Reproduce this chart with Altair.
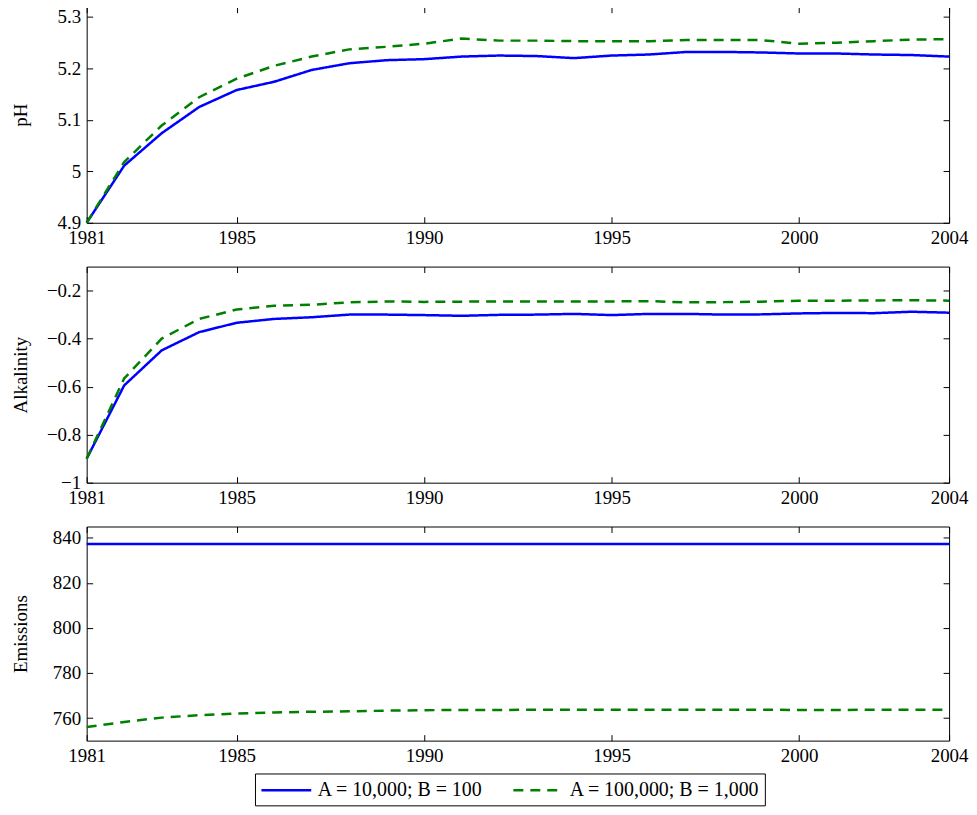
import altair as alt
import pandas as pd

# ---- data ----
years = [1981, 1982, 1983, 1984, 1985, 1986, 1987, 1988, 1989, 1990, 1991, 1992,
         1993, 1994, 1995, 1996, 1997, 1998, 1999, 2000, 2001, 2002, 2003, 2004]

ph_a = [4.900, 5.011, 5.074, 5.125, 5.158, 5.174, 5.197, 5.210, 5.216, 5.218, 5.223, 5.225,
        5.224, 5.220, 5.225, 5.227, 5.232, 5.232, 5.231, 5.229, 5.229, 5.227, 5.226, 5.223]
ph_b = [4.900, 5.018, 5.089, 5.144, 5.180, 5.205, 5.223, 5.237, 5.242, 5.248, 5.258, 5.254,
        5.254, 5.253, 5.253, 5.253, 5.255, 5.255, 5.255, 5.248, 5.250, 5.253, 5.256, 5.257]

alk_a = [-0.900, -0.595, -0.449, -0.373, -0.334, -0.318, -0.311, -0.300, -0.300, -0.302, -0.305, -0.301,
         -0.300, -0.297, -0.302, -0.297, -0.297, -0.300, -0.299, -0.295, -0.293, -0.294, -0.288, -0.292]
alk_b = [-0.900, -0.566, -0.400, -0.318, -0.279, -0.263, -0.259, -0.249, -0.245, -0.247, -0.246, -0.245,
         -0.245, -0.245, -0.245, -0.244, -0.249, -0.248, -0.246, -0.242, -0.242, -0.241, -0.240, -0.242]

em_a = [837.2, 837.2, 837.2, 837.2, 837.2, 837.2, 837.2, 837.2, 837.2, 837.2, 837.2, 837.2,
        837.2, 837.2, 837.2, 837.2, 837.2, 837.2, 837.2, 837.2, 837.2, 837.2, 837.2, 837.2]
em_b = [756.0, 758.3, 760.2, 761.3, 762.0, 762.5, 762.8, 763.0, 763.3, 763.5, 763.6, 763.6,
        763.7, 763.7, 763.7, 763.7, 763.7, 763.7, 763.7, 763.6, 763.6, 763.7, 763.7, 763.7]

series_names = ["A = 10,000; B = 100", "A = 100,000; B = 1,000"]
x_ticks = [1981, 1985, 1990, 1995, 2000, 2004]
ph_ticks = [4.9, 5.0, 5.1, 5.2, 5.3]
alk_ticks = [-1.0, -0.8, -0.6, -0.4, -0.2]
em_ticks = [760, 780, 800, 820, 840]

COLORS = ["#0000ff", "#008000"]
DASHES = [[1, 0], [10, 7]]
FONT = "Liberation Serif"
W = 866


def panel(a, b, title, domain, ticks, fmt, height, legend):
    df = pd.DataFrame({
        "year": years + years,
        "value": a + b,
        "series": [series_names[0]] * len(years) + [series_names[1]] * len(years),
    })
    xs = alt.Scale(domain=[1981, 2004], nice=False, zero=False)
    ys = alt.Scale(domain=domain, nice=False, zero=False)
    base = alt.Chart(df)
    if legend:
        leg = alt.Legend(orient="none", legendX=169, legendY=248, direction="horizontal",
                         title=None, strokeColor="black", fillColor="white", padding=5,
                         symbolType="M-1,0H4", symbolSize=400, symbolStrokeWidth=2.5,
                         symbolFillColor="transparent",
                         labelFont=FONT, labelFontSize=20, labelColor="black",
                         columnPadding=25, labelOffset=35, labelLimit=400)
    else:
        leg = None
    lines = base.mark_line(strokeWidth=2.5).encode(
        x=alt.X("year:Q", scale=xs,
                axis=alt.Axis(orient="bottom", values=x_ticks, format="d", offset=-6, tickSize=6,
                              labelPadding=6, domain=False, grid=False, labelFlush=False,
                              labelOverlap=False, title=None)),
        y=alt.Y("value:Q", scale=ys,
                axis=alt.Axis(orient="left", values=ticks, format=fmt, offset=-6, tickSize=6,
                              labelPadding=6, domain=False, grid=False, labelOverlap=False,
                              title=title, titleX=-62, titleY=height / 2)),
        color=alt.Color("series:N", scale=alt.Scale(domain=series_names, range=COLORS), legend=leg),
        strokeDash=alt.StrokeDash("series:N", scale=alt.Scale(domain=series_names, range=DASHES), legend=leg),
    )
    inner = base.mark_line(opacity=0).encode(
        x=alt.X("year:Q", scale=xs,
                axis=alt.Axis(orient="top", values=x_ticks, offset=-6, tickSize=6, labels=False,
                              domain=False, grid=False, title=None)),
        y=alt.Y("value:Q", scale=ys,
                axis=alt.Axis(orient="right", values=ticks, offset=-6, tickSize=6, labels=False,
                              domain=False, grid=False, title=None)),
    )
    return alt.layer(lines, inner).resolve_axis(x="independent", y="independent").properties(
        width=W, height=height)


p1 = panel(ph_a, ph_b, "pH", [4.9, 5.32], ph_ticks, ".1~f", 217, False)
p2 = panel(alk_a, alk_b, "Alkalinity", [-1.0, -0.1], alk_ticks, ".1~f", 217, False)
p3 = panel(em_a, em_b, "Emissions", [750, 845], em_ticks, "d", 215, True)

chart = alt.vconcat(p1, p2, p3, spacing=17).resolve_scale(
    color="independent", strokeDash="independent"
).properties(
    padding={"left": 3, "top": -4, "right": 0, "bottom": 0}
).configure_view(
    stroke="black", strokeWidth=1
).configure_axis(
    labelFont=FONT, titleFont=FONT, labelFontSize=19, titleFontSize=19,
    labelColor="black", titleColor="black", tickColor="black", tickWidth=1,
    titleFontWeight="normal"
)

chart.save("out.html", embed_options={"renderer": "svg", "actions": False})
